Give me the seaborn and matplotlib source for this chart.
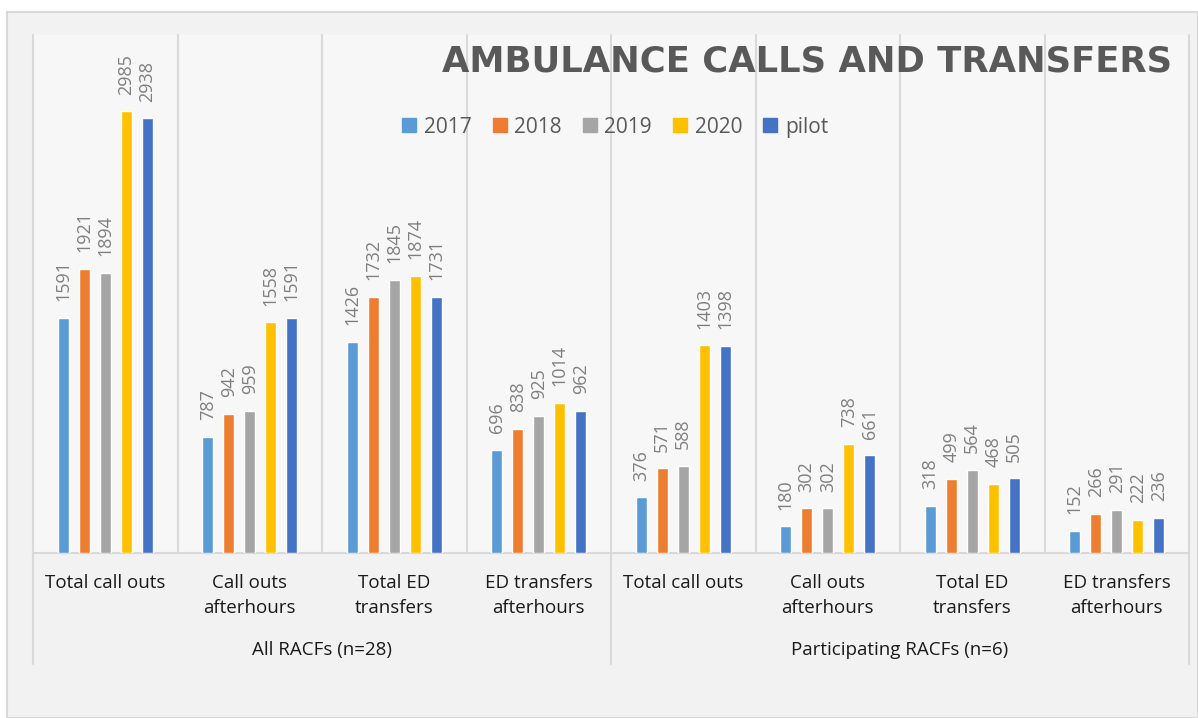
import numpy as np
import pandas as pd
import seaborn as sns
import matplotlib.pyplot as plt
import matplotlib.transforms as mtransforms
from matplotlib.lines import Line2D
from matplotlib.patches import Rectangle

categories = ["Total call outs", "Call outs\nafterhours", "Total ED\ntransfers", "ED transfers\nafterhours"] * 2
groups = ["All RACFs (n=28)", "Participating RACFs (n=6)"]
series = ["2017", "2018", "2019", "2020", "pilot"]
colors = ["#5B9BD5", "#ED7D31", "#A5A5A5", "#FFC000", "#4472C4"]

v2017 = [1591, 787, 1426, 696, 376, 180, 318, 152]
v2018 = [1921, 942, 1732, 838, 571, 302, 499, 266]
v2019 = [1894, 959, 1845, 925, 588, 302, 564, 291]
v2020 = [2985, 1558, 1874, 1014, 1403, 738, 468, 222]
vpilot = [2938, 1591, 1731, 962, 1398, 661, 505, 236]

slots = [f"c{i}" for i in range(len(categories))]
rows = []
for name, vals in zip(series, [v2017, v2018, v2019, v2020, vpilot]):
    for s, v in zip(slots, vals):
        rows.append({"slot": s, "series": name, "value": v})
df = pd.DataFrame(rows)

sns.set_style("white")
plt.rcParams['font.family'] = ['Open Sans', 'DejaVu Sans']

W, H = 1198, 718
fig = plt.figure(figsize=(W / 100, H / 100), dpi=100, facecolor="white")
fig.patches.append(Rectangle((7 / W, 0), (W - 7) / W, (H - 12) / H, transform=fig.transFigure,
                             facecolor="#f2f2f2", edgecolor="#d9d9d9", lw=1.5, zorder=-10))

ax = fig.add_axes([33 / W, 1 - 553 / H, (1189 - 33) / W, (553 - 35) / H])
ax.set_facecolor("#f7f7f7")

sns.barplot(data=df, x="slot", y="value", hue="series", order=slots, hue_order=series,
            palette=colors, saturation=1, width=0.727, gap=0.47, legend=False, ax=ax, zorder=3)

for c in ax.containers:
    ax.bar_label(c, rotation=90, padding=12, color="#7f7f7f", fontsize=13)

ax.set_ylim(0, 3500)
ax.set_xlim(-0.5, 7.5)
ax.set_yticks([])
ax.set_xlabel("")
ax.set_ylabel("")
for side in ["top", "left", "right"]:
    ax.spines[side].set_visible(False)
ax.spines["bottom"].set_color("#d9d9d9")
ax.spines["bottom"].set_linewidth(1.5)

# category separators
for x in np.arange(-0.5, 8):
    ax.axvline(x, color="#d9d9d9", lw=1.5, zorder=1, clip_on=False)
trans = mtransforms.blended_transform_factory(ax.transData, ax.transAxes)
for x in [-0.5, 3.5, 7.5]:
    ax.plot([x, x], [0, -0.215], transform=trans, color="#d9d9d9", lw=1.5, clip_on=False)

ax.set_xticks(range(len(categories)))
ax.set_xticklabels(categories, fontsize=13.5, color="#1a1a1a", linespacing=1.5)
ax.tick_params(axis="x", length=0, pad=15)

for gx, g in zip([1.5, 5.5], groups):
    ax.text(gx, -0.187, g, transform=trans, ha="center", va="center", fontsize=13.5, color="#1a1a1a")

handles = [Line2D([], [], marker="s", ls="", color=c, markersize=9.5) for c in colors]
ax.legend(handles, series, ncol=5, loc="center", bbox_to_anchor=(0.5035, 0.822), frameon=False,
          fontsize=15, labelcolor="#595959", handlelength=0.7, handletextpad=0.35, columnspacing=1.0)

fig.text(1172 / W, 1 - 61 / H, "AMBULANCE CALLS AND TRANSFERS", ha="right", va="center",
         fontsize=25.5, fontweight="bold", color="#595959", family="DejaVu Sans")

fig.savefig("out.png", dpi=100, facecolor=fig.get_facecolor())
